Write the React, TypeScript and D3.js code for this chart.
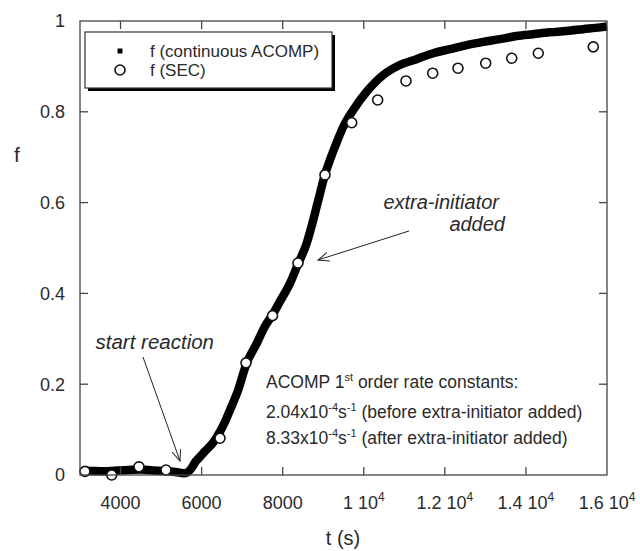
import React from "react";
import * as d3 from "d3";

const acompT = [3050, 3300, 3600, 3900, 4200, 4500, 4800, 5100, 5400, 5550, 5650, 5750, 5840, 5960, 6080, 6290, 6450, 6580, 6700, 6900, 7110, 7360, 7560, 7770, 7930, 8180, 8385, 8590, 8755, 8880, 9040, 9150, 9290, 9495, 9740, 10070, 10480, 10890, 11300, 11710, 12130, 12540, 12950, 13360, 13770, 14180, 14590, 15000, 15410, 15830, 16000];
const acompF = [0.010, 0.009, 0.008, 0.010, 0.011, 0.012, 0.010, 0.009, 0.006, 0.004, 0.006, 0.015, 0.028, 0.040, 0.052, 0.072, 0.095, 0.118, 0.143, 0.187, 0.246, 0.290, 0.327, 0.356, 0.382, 0.422, 0.466, 0.510, 0.562, 0.606, 0.661, 0.690, 0.723, 0.767, 0.804, 0.844, 0.881, 0.903, 0.916, 0.929, 0.938, 0.947, 0.954, 0.960, 0.967, 0.971, 0.975, 0.978, 0.982, 0.986, 0.988];

const secT = [3123, 3782, 4455, 5121, 6453, 7095, 7749, 8377, 9043, 9702, 10343, 11041, 11700, 12324, 13008, 13650, 14305, 15662];
const secF = [0.008, 0.0, 0.018, 0.011, 0.081, 0.247, 0.351, 0.467, 0.661, 0.776, 0.826, 0.868, 0.885, 0.896, 0.907, 0.918, 0.929, 0.943];

const xTickValues = [4000, 6000, 8000, 10000, 12000, 14000, 16000];
const xTickBase = ["4000", "6000", "8000", "1 10", "1.2 10", "1.4 10", "1.6 10"];
const xTickExp = ["", "", "", "4", "4", "4", "4"];
const yTickValues = [0, 0.2, 0.4, 0.6, 0.8, 1];
const yTickLabels = ["0", "0.2", "0.4", "0.6", "0.8", "1"];

const legendLabels = ["f (continuous ACOMP)", "f (SEC)"];

const FONT = "'Liberation Sans', Arial, sans-serif";
const TXT = "#2a2a2a";

export default function App() {
  const W = 640, H = 551;
  const left = 80, right = 607, top = 21, bottom = 475;
  const x = d3.scaleLinear().domain([3000, 16000]).range([left, right]);
  const y = d3.scaleLinear().domain([0, 1]).range([bottom, top]);

  const acomp = acompT.map((t, i) => [t, acompF[i]] as [number, number]);
  const line = d3.line<[number, number]>().x(d => x(d[0])).y(d => y(d[1])).curve(d3.curveMonotoneX);

  const tickLen = 8;

  return (
    <svg width={W} height={H} style={{ position: "absolute", left: 0, top: 0, background: "#fff" }} fontFamily={FONT}>
      <defs>
        <marker id="ah" viewBox="0 0 12 10" refX="11" refY="5" markerWidth="12" markerHeight="10" markerUnits="userSpaceOnUse" orient="auto">
          <path d="M0,0.5 L11,5 L0,9.5" fill="none" stroke="#222" strokeWidth="1" />
        </marker>
      </defs>
      <rect x={0} y={0} width={W} height={H} fill="#fff" />

      {/* data curve */}
      <path d={line(acomp) || ""} fill="none" stroke="#000" strokeWidth={8.5} strokeLinejoin="round" strokeLinecap="butt" />

      {/* SEC circles */}
      {secT.map((t, i) => (
        <circle key={i} cx={x(t)} cy={y(secF[i])} r={5} fill="#fff" stroke="#111" strokeWidth={1.6} />
      ))}

      {/* frame */}
      <rect x={left} y={top} width={right - left} height={bottom - top} fill="none" stroke="#444" strokeWidth={1.3} />

      {/* x ticks */}
      {xTickValues.filter(v => v < 16000).map((v, i) => (
        <g key={i}>
          <line x1={x(v)} x2={x(v)} y1={bottom} y2={bottom - tickLen} stroke="#444" strokeWidth={1.3} />
          <line x1={x(v)} x2={x(v)} y1={top} y2={top + tickLen} stroke="#444" strokeWidth={1.3} />
        </g>
      ))}
      {xTickValues.map((v, i) => (
        <text key={i} x={x(v)} y={509} textAnchor="middle" fontSize={18} fill={TXT}>
          <tspan>{xTickBase[i]}</tspan>
          {xTickExp[i] ? <tspan dy={-8} fontSize={12}>{xTickExp[i]}</tspan> : null}
        </text>
      ))}

      {/* y ticks */}
      {yTickValues.filter(v => v > 0 && v < 1).map((v, i) => (
        <g key={i}>
          <line x1={left} x2={left + tickLen} y1={y(v)} y2={y(v)} stroke="#444" strokeWidth={1.3} />
          <line x1={right} x2={right - tickLen} y1={y(v)} y2={y(v)} stroke="#444" strokeWidth={1.3} />
        </g>
      ))}
      {yTickValues.map((v, i) => (
        <text key={i} x={65} y={y(v)} dy="0.36em" textAnchor="end" fontSize={18} fill={TXT}>{yTickLabels[i]}</text>
      ))}

      {/* axis titles */}
      <text x={17} y={154} dy="0.36em" textAnchor="middle" fontSize={21} fill={TXT}>f</text>
      <text x={343} y={538} dy="0.36em" textAnchor="middle" fontSize={20} fill={TXT}>t (s)</text>

      {/* legend */}
      <rect x={88} y={35} width={247} height={56} fill="#000" />
      <rect x={85} y={32} width={247} height={56} fill="#fff" stroke="#333" strokeWidth={1.2} />
      <rect x={117.5} y={48.5} width={5} height={5} fill="#000" />
      <circle cx={120} cy={70} r={5} fill="#fff" stroke="#111" strokeWidth={1.6} />
      <text x={150} y={51} dy="0.35em" fontSize={17} fill={TXT}>{legendLabels[0]}</text>
      <text x={150} y={70.5} dy="0.35em" fontSize={17} fill={TXT}>{legendLabels[1]}</text>

      {/* annotations */}
      <text x={214} y={342} dy="0.36em" textAnchor="end" fontSize={20.5} fontStyle="italic" fill={TXT}>start reaction</text>
      <line x1={143} y1={357} x2={180} y2={461} stroke="#222" strokeWidth={1} markerEnd="url(#ah)" />

      <text x={499} y={202} dy="0.36em" textAnchor="end" fontSize={20} fontStyle="italic" fill={TXT}>extra-initiator</text>
      <text x={505} y={224} dy="0.36em" textAnchor="end" fontSize={20} fontStyle="italic" fill={TXT}>added</text>
      <line x1={409} y1={231} x2={318} y2={260} stroke="#222" strokeWidth={1} markerEnd="url(#ah)" />

      <text x={266} y={382} dy="0.36em" fontSize={17.5} fill={TXT}>
        <tspan>ACOMP 1</tspan>
        <tspan dy={-7} fontSize={11}>st</tspan>
        <tspan dy={7}> order rate constants:</tspan>
      </text>
      <text x={266} y={412} dy="0.36em" fontSize={17.5} fill={TXT}>
        <tspan>2.04x10</tspan>
        <tspan dy={-7} fontSize={11}>-4</tspan>
        <tspan dy={7}>s</tspan>
        <tspan dy={-7} fontSize={11}>-1</tspan>
        <tspan dy={7}> (before extra-initiator added)</tspan>
      </text>
      <text x={266} y={438} dy="0.36em" fontSize={17.5} fill={TXT}>
        <tspan>8.33x10</tspan>
        <tspan dy={-7} fontSize={11}>-4</tspan>
        <tspan dy={7}>s</tspan>
        <tspan dy={-7} fontSize={11}>-1</tspan>
        <tspan dy={7}> (after extra-initiator added)</tspan>
      </text>
    </svg>
  );
}
